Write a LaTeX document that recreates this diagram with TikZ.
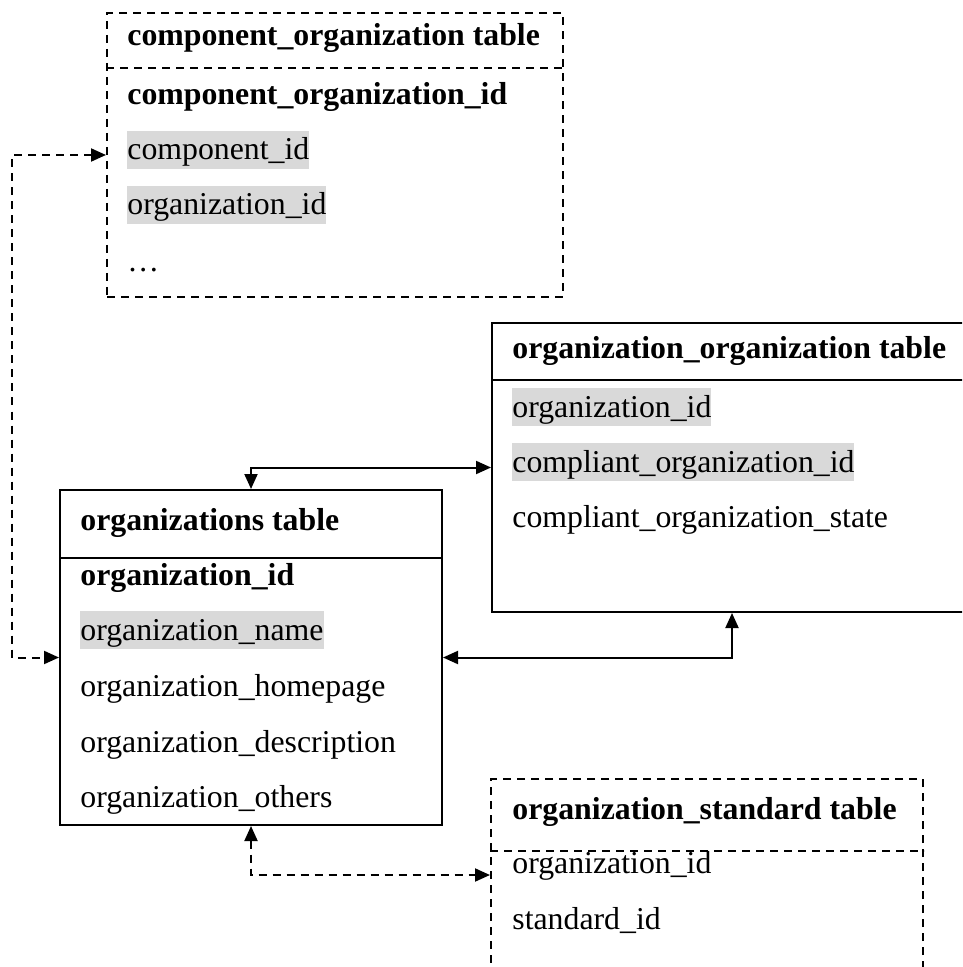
\documentclass[tikz,border=0pt]{standalone}
\usepackage{fontspec}
\setmainfont{Liberation Serif}
\usetikzlibrary{arrows.meta,fit}
\begin{document}
\begin{tikzpicture}[x=0.5pt,y=-0.5pt,
  every node/.style={font=\fontsize{15.9}{19}\selectfont},
  tbl/.style={draw, line width=1pt, inner sep=0pt},
  dtbl/.style={tbl, dash pattern=on 4pt off 3pt},
  sep/.style={line width=1pt},
  dsep/.style={sep, dash pattern=on 4pt off 3pt},
  field/.style={anchor=base west, inner sep=0pt, text height=14.5pt, text depth=4.5pt},
  key/.style={field, font=\fontsize{15.9}{19}\selectfont\bfseries},
  hl/.style={field, fill=black!15},
  tip/.tip={Triangle[length=7.5pt,width=6.5pt]},
  link/.style={line width=1pt, tip-tip},
  dlink/.style={link, dash pattern=on 4pt off 3pt}]

\useasboundingbox (0,0) rectangle (962,967);
\clip (0,0) rectangle (962,967);

% table outlines
\coordinate (c1) at (107,13);  \coordinate (c2) at (563,297);
\coordinate (o1) at (60,490);  \coordinate (o2) at (442,825);
\coordinate (r1) at (492,323); \coordinate (r2) at (972,612);
\coordinate (s1) at (491,779); \coordinate (s2) at (923,971);
\node[dtbl, fit=(c1)(c2)] (comp) {};
\node[tbl,  fit=(o1)(o2)] (orgs) {};
\node[tbl,  fit=(r1)(r2)] (oo) {};
\node[dtbl, fit=(s1)(s2)] (std) {};

% header separators
\draw[dsep] (comp.west |- 0,68)  -- (comp.east |- 0,68);
\draw[sep]  (orgs.west |- 0,558) -- (orgs.east |- 0,558);
\draw[sep]  (oo.west |- 0,380)   -- (oo.east |- 0,380);
\draw[dsep] (std.west |- 0,851)  -- (std.east |- 0,851);

% component_organization table
\node[key] (compT)  at (127,46)  {component\_organization table};
\node[key] (compK)  at (127,105) {component\_organization\_id};
\node[hl]  (compF1) at (127,160) {component\_id};
\node[hl]  (compF2) at (127,215) {organization\_id};
\node[field] (compF3) at (127,272) {…};

% organizations table
\node[key] (orgsT)  at (80,530) {organizations table};
\node[key] (orgsK)  at (80,585) {organization\_id};
\node[hl]  (orgsF1) at (80,640) {organization\_name};
\node[field] (orgsF2) at (80,696) {organization\_homepage};
\node[field] (orgsF3) at (80,752) {organization\_description};
\node[field] (orgsF4) at (80,807) {organization\_others};

% organization_organization table
\node[key] (ooT)  at (512,358) {organization\_organization table};
\node[hl]  (ooF1) at (512,417) {organization\_id};
\node[hl]  (ooF2) at (512,472) {compliant\_organization\_id};
\node[field] (ooF3) at (512,527) {compliant\_organization\_state};

% organization_standard table
\node[key] (stdT)  at (512,819) {organization\_standard table};
\node[field] (stdF1) at (512,873) {organization\_id};
\node[field] (stdF2) at (512,929) {standard\_id};

% relations
\coordinate (lft) at (12,0);
\draw[dlink] (comp.west) -- (comp.west -| lft) |- (orgs.west);
\draw[link]  (orgs.north) |- (oo.west);
\draw[link]  (orgs.east) -| (oo.south);
\draw[dlink] (orgs.south) |- (std.west);
\end{tikzpicture}
\end{document}
